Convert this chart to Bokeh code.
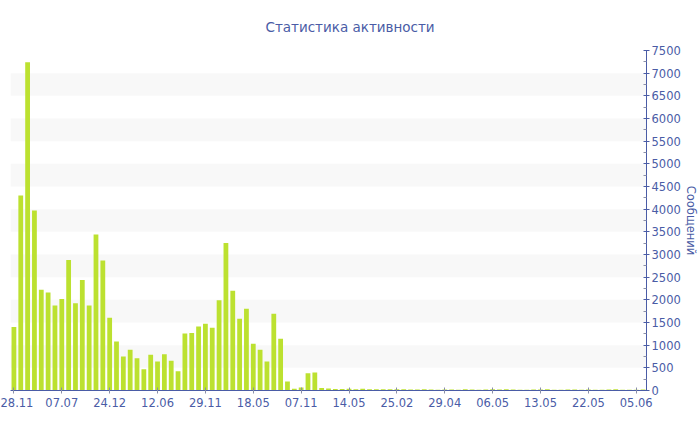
from bokeh.plotting import figure
from bokeh.models import FixedTicker, Range1d, LinearAxis
from bokeh.embed import file_html
from bokeh.resources import INLINE

# ---- data ----
values = [
    1400, 4300, 7240, 3970, 2220, 2160, 1875, 2020, 2880, 1925,
    2440, 1875, 3440, 2870, 1605, 1080, 750, 897, 713, 470,
    787, 640, 797, 655, 426, 1260, 1268, 1412, 1471, 1386,
    1993, 3255, 2199, 1581, 1801, 1029, 897, 640, 1691, 1140,
    199, 37, 66, 382, 397, 55, 45, 35, 35, 40,
    30, 38, 30, 30, 28, 25, 25, 30, 22, 20,
    25, 20, 18, 20, 22, 18, 25, 20, 15, 20,
    28, 22, 25, 20, 15, 18, 22, 20, 25, 18,
    15, 20, 22, 18, 20, 15, 18, 20, 25, 18,
    15, 18, 20,
]
tick_labels = ["28.11", "07.07", "24.12", "12.06", "29.11", "18.05", "07.11",
               "14.05", "25.02", "29.04", "06.05", "13.05", "22.05", "05.06"]
title_text = "Статистика активности"
y_label = "Сообщений"
label_step = 7

idx = list(range(len(values)))
tick_pos = [i * label_step for i in range(len(tick_labels))]

BLUE = "#4a5ca6"
BAR = "#bce130"

p = figure(width=700, height=430, output_backend="svg", toolbar_location=None,
           x_range=Range1d(-0.5, len(values) - 0.5), y_range=Range1d(0, 7500),
           y_axis_location=None, min_border_left=10, min_border_right=50,
           min_border_top=50, min_border_bottom=40)
p.outline_line_color = None
p.background_fill_color = "white"

p.title.text = title_text
p.title.align = "left"
p.title.offset = 255
p.title.text_font = "DejaVu Sans"
p.title.text_font_size = "13.5px"
p.title.text_font_style = "normal"
p.title.text_color = BLUE
p.title.standoff = 31

p.vbar(x=idx, top=values, width=0.7, bottom=0, fill_color=BAR, line_color=None)

# x axis
xa = p.xaxis[0]
xa.ticker = FixedTicker(ticks=tick_pos, minor_ticks=[])
xa.major_label_overrides = {pos: lab for pos, lab in zip(tick_pos, tick_labels)}
xa.axis_line_color = BLUE
xa.major_tick_line_color = "#8a8fa8"
xa.major_tick_in = 3
xa.major_tick_out = 3
xa.minor_tick_line_color = None
xa.major_label_text_font = "DejaVu Sans"
xa.major_label_text_font_size = "11.5px"
xa.major_label_text_color = BLUE
xa.major_label_standoff = 4

# y axis on the right
ya = LinearAxis(axis_label=y_label)
ya.ticker = FixedTicker(ticks=list(range(0, 7501, 500)),
                        minor_ticks=list(range(250, 7500, 500)))
ya.axis_line_color = BLUE
ya.major_tick_line_color = BLUE
ya.minor_tick_line_color = "#8a8fa8"
ya.major_tick_in = 3
ya.major_tick_out = 3
ya.minor_tick_in = 3
ya.minor_tick_out = 0
ya.major_label_text_font = "DejaVu Sans"
ya.major_label_text_font_size = "11.5px"
ya.major_label_text_color = BLUE
ya.major_label_standoff = 2
ya.axis_label_text_font = "DejaVu Sans"
ya.axis_label_text_font_size = "11.5px"
ya.axis_label_text_font_style = "normal"
ya.axis_label_text_color = BLUE
ya.axis_label_standoff = 0
p.add_layout(ya, "right")

p.xgrid.grid_line_color = None
p.ygrid.grid_line_color = None
p.ygrid.ticker = ya.ticker
p.ygrid.band_fill_color = "#f8f8f8"
p.ygrid.band_fill_alpha = 1.0

open("out.html", "w").write(file_html(p, INLINE))
